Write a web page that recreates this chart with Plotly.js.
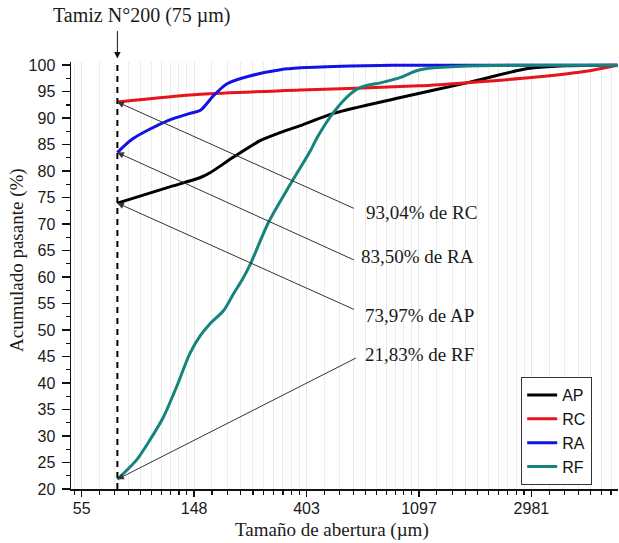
<!DOCTYPE html>
<html>
<head>
<meta charset="utf-8">
<script src="https://cdn.plot.ly/plotly-3.0.1.min.js"></script>
<style>
  html, body { margin: 0; padding: 0; background: #fff; }
  #chart { width: 619px; height: 543px; }
</style>
</head>
<body>
<div id="chart"></div>
<script>
// Curvas granulométricas: tamaño de abertura (µm) vs. porcentaje acumulado pasante
const seriesNames = ['AP', 'RC', 'RA', 'RF'];
const seriesColors = ['#000000', '#e8141c', '#1212e6', '#15847b'];

const apSize = [75, 117, 157, 171, 210, 268, 320, 382, 513, 931, 1693, 2643, 3048, 4000, 6400];
const apPass = [73.97, 76.9, 78.8, 79.7, 82.6, 85.8, 87.3, 88.6, 90.9, 93.9, 96.7, 99.0, 99.5, 99.9, 100];

const rcSize = [75, 157, 382, 1097, 1693, 3048, 4760, 6400];
const rcPass = [93.04, 94.5, 95.3, 96.1, 96.7, 97.7, 98.8, 100];

const raSize = [75, 86, 117, 143, 157, 176, 199, 245, 320, 382, 596, 1000, 6400];
const raPass = [83.5, 86.1, 89.5, 90.9, 91.5, 94.2, 96.5, 98.0, 99.15, 99.5, 99.85, 100, 100];

const rfSize = [75, 89, 100, 113, 127, 143, 157, 171, 193, 211, 227, 245, 288, 350, 418, 444, 513, 596, 652, 800, 931, 1081, 1250, 1693, 2643, 6400];
const rfPass = [21.83, 25.5, 29.2, 33.6, 39.3, 45.6, 49.0, 51.2, 53.7, 56.9, 59.4, 62.5, 70.4, 77.6, 83.9, 86.4, 91.1, 94.6, 95.8, 96.8, 97.7, 99.0, 99.5, 99.85, 100, 100];

// Tamiz N°200 and the passing value of each material at that sieve
const sieveSize = 75;
const sieveLabels = ['93,04% de RC', '83,50% de RA', '73,97% de AP', '21,83% de RF'];
const sieveValues = [93.04, 83.50, 73.97, 21.83];

// Natural-log axis labels (e^4 ... e^8)
const tickLabels = ['55', '148', '403', '1097', '2981'];
const tickExps = [4, 5, 6, 7, 8];

const sizes = [apSize, rcSize, raSize, rfSize];
const passes = [apPass, rcPass, raPass, rfPass];

const serif = 'Liberation Serif, Times New Roman, serif';
const sans = 'Liberation Sans, Arial, sans-serif';

const traces = seriesNames.map((name, i) => ({
  type: 'scatter', mode: 'lines', name: name,
  x: sizes[i], y: passes[i],
  line: { color: seriesColors[i], width: 3, shape: 'spline', smoothing: 0.8 }
}));

// dashed vertical marker at the N°200 sieve
traces.push({
  type: 'scatter', mode: 'lines', showlegend: false, hoverinfo: 'skip',
  x: [sieveSize, sieveSize], y: [20, 100.6],
  line: { color: '#000', width: 2, dash: '6px,5px' }
});

// minor ticks: nine evenly spaced values inside each e-decade
const minorVals = [];
for (let k = 3; k <= 8; k++) {
  const a = Math.exp(k), b = Math.exp(k + 1);
  for (let j = 1; j <= 9; j++) minorVals.push(a + j * (b - a) / 10);
}

const LN10 = Math.LN10;
const xr = [3.905 / LN10, 8.77 / LN10];

const annotations = [];
// arrows pointing to each value on the sieve line
const arrowTails = [[238, 107], [238, 108], [238, 107], [240, -122]];
sieveValues.forEach((v, i) => {
  annotations.push({
    xref: 'x', yref: 'y', x: Math.log10(sieveSize), y: v,
    text: '', showarrow: true, axref: 'pixel', ayref: 'pixel',
    ax: arrowTails[i][0], ay: arrowTails[i][1],
    arrowhead: 2, arrowsize: 1.3, arrowwidth: 1, arrowcolor: '#333', standoff: 0
  });
});
const labelPos = [[0.640, 0.648], [0.633, 0.545], [0.638, 0.407], [0.637, 0.314]];
sieveLabels.forEach((t, i) => {
  annotations.push({
    xref: 'paper', yref: 'paper', x: labelPos[i][0], y: labelPos[i][1],
    text: t, showarrow: false, xanchor: 'center', yanchor: 'middle',
    font: { family: serif, size: 19, color: '#1a1a1a' }
  });
});
// sieve caption with downward arrow
annotations.push({
  xref: 'paper', yref: 'paper', x: 0.129, y: 1.110,
  text: 'Tamiz N°200 (75 µm)', showarrow: false, xanchor: 'center', yanchor: 'middle',
  font: { family: serif, size: 20, color: '#1a1a1a' }
});
annotations.push({
  xref: 'x', yref: 'paper', x: Math.log10(sieveSize), y: 1.008,
  text: '', showarrow: true, axref: 'pixel', ayref: 'pixel', ax: 0, ay: -29,
  arrowhead: 2, arrowsize: 1.3, arrowwidth: 1, arrowcolor: '#111', standoff: 0
});
// axis titles
annotations.push({
  xref: 'paper', yref: 'paper', x: 0.478, y: -0.096,
  text: 'Tamaño de abertura (µm)', showarrow: false, xanchor: 'center', yanchor: 'middle',
  font: { family: serif, size: 19, color: '#1a1a1a' }
});
annotations.push({
  xref: 'paper', yref: 'paper', x: -0.099, y: 0.536, textangle: -90,
  text: 'Acumulado pasante (%)', showarrow: false, xanchor: 'center', yanchor: 'middle',
  font: { family: serif, size: 19, color: '#1a1a1a' }
});

const layout = {
  width: 619, height: 543,
  margin: { l: 71, r: 1, t: 62, b: 54 },
  paper_bgcolor: '#fff', plot_bgcolor: '#fff',
  showlegend: true,
  legend: {
    x: 0.823, y: 0.262, xanchor: 'left', yanchor: 'top',
    bgcolor: '#fff', bordercolor: '#333', borderwidth: 1,
    font: { family: sans, size: 16, color: '#111' },
    tracegroupgap: 0
  },
  xaxis: {
    type: 'log', range: xr,
    tickmode: 'array',
    tickvals: tickExps.map(k => Math.exp(k)),
    ticktext: tickLabels,
    ticks: 'outside', ticklen: 6, tickwidth: 1.5, tickcolor: '#111',
    ticklabelstandoff: -2,
    showline: true, linecolor: '#111', linewidth: 1.5,
    showgrid: true, gridcolor: '#e6e6e6', gridwidth: 1,
    zeroline: false,
    tickfont: { family: sans, size: 16, color: '#1a1a1a' },
    minor: {
      tickmode: 'array', tickvals: minorVals,
      ticks: 'outside', ticklen: 4, tickwidth: 1.2, tickcolor: '#111',
      showgrid: true, gridcolor: '#ececec', gridwidth: 1
    }
  },
  yaxis: {
    range: [20, 100.6],
    tickmode: 'linear', tick0: 20, dtick: 5,
    ticks: 'outside', ticklen: 8, tickwidth: 1.5, tickcolor: '#111',
    showline: true, linecolor: '#111', linewidth: 1.5,
    showgrid: false, zeroline: false,
    ticklabelstandoff: 3,
    tickfont: { family: sans, size: 16, color: '#1a1a1a' },
    minor: { dtick: 2.5, ticks: 'outside', ticklen: 4, tickwidth: 1.2, tickcolor: '#111', showgrid: false }
  },
  annotations: annotations
};

Plotly.newPlot('chart', traces, layout, { displayModeBar: false, staticPlot: true });
</script>
</body>
</html>
